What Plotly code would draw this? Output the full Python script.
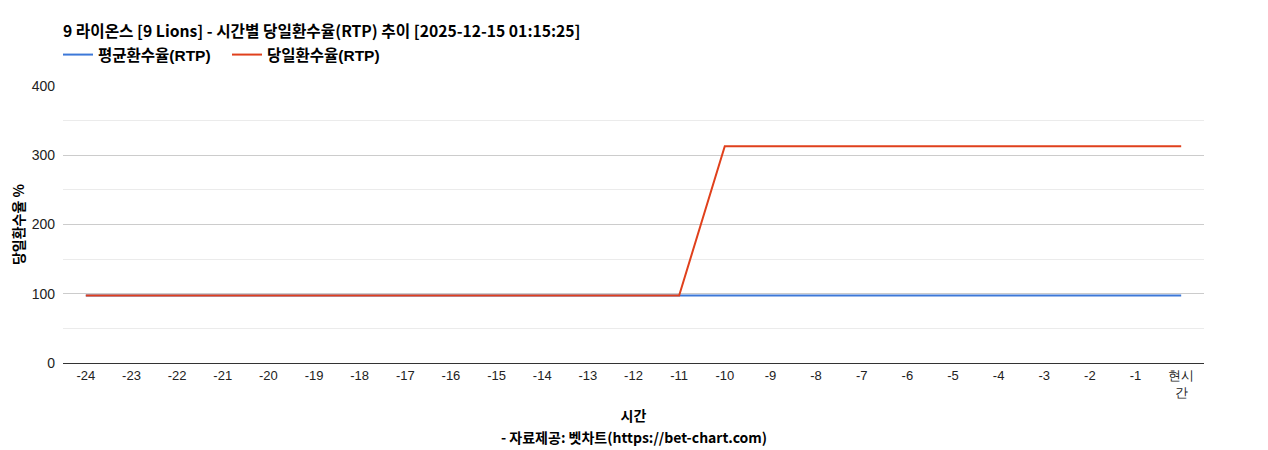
import plotly.graph_objects as go

categories = ["-24", "-23", "-22", "-21", "-20", "-19", "-18", "-17", "-16", "-15", "-14", "-13",
              "-12", "-11", "-10", "-9", "-8", "-7", "-6", "-5", "-4", "-3", "-2", "-1", "현시<br>간"]
avg_rtp = [97.3] * 25
daily_rtp = [97.5] * 14 + [313.0] * 11

title_text = "9 라이온스 [9 Lions] - 시간별 당일환수율(RTP) 추이 [2025-12-15 01:15:25]"
font_kr = "Noto Sans CJK KR"
font_mix = "Liberation Sans, Noto Sans CJK KR"

W, H = 1252, 442
L, R, T, B = 55, 56, 78, 87
plot_h = H - T - B
plot_w = W - L - R

fig = go.Figure()
fig.add_trace(go.Scatter(x=categories, y=avg_rtp, mode="lines", name="<b>평균환수율(RTP)</b>",
                         line=dict(color="#3c78d8", width=2)))
fig.add_trace(go.Scatter(x=categories, y=daily_rtp, mode="lines", name="<b>당일환수율(RTP)</b>",
                         line=dict(color="#e0401c", width=2)))

fig.update_layout(
    width=W, height=H,
    margin=dict(l=L, r=R, t=T, b=B, autoexpand=False),
    paper_bgcolor="white", plot_bgcolor="white",
    title=dict(text="<b>" + title_text + "</b>", x=L / W, xanchor="left",
               y=1 - 24 / H, yanchor="middle",
               font=dict(family=font_kr, size=15.7, color="#000")),
    legend=dict(orientation="h", x=-5 / plot_w, xanchor="left", y=(H - B - 47) / plot_h, yanchor="middle",
                font=dict(family=font_mix, size=15.5, color="#000"),
                entrywidth=124, traceorder="normal"),
    showlegend=True,
    hovermode=False,
)
fig.update_xaxes(
    type="category", range=[-0.5, 24.5], automargin=False,
    showgrid=False, showline=True, linecolor="#333", linewidth=1,
    ticks="", tickfont=dict(family="Liberation Sans, Arial", size=13, color="#222"),
    title=dict(text="<b>시간</b>", font=dict(family=font_kr, size=14, color="#000"), standoff=12),
)
fig.update_yaxes(
    range=[0, 400], dtick=100, showgrid=True, gridcolor="#cccccc", automargin=False,
    minor=dict(dtick=50, showgrid=True, gridcolor="#ebebeb"),
    zeroline=False, showline=False, ticks="", ticklabelstandoff=7,
    tickfont=dict(family="Liberation Sans, Arial", size=14, color="#222"),
    title=dict(text="<b>당일환수율 %</b>", font=dict(family=font_kr, size=14, color="#000"), standoff=14),
)
fig.add_annotation(text="<b>- 자료제공: 벳차트(https://bet-chart.com)</b>", xref="paper", yref="paper",
                   x=0.5, y=-(429 - (H - B)) / plot_h,
                   xanchor="center", yanchor="middle", showarrow=False,
                   font=dict(family=font_kr, size=14, color="#000"))

fig.write_html("out.html")
